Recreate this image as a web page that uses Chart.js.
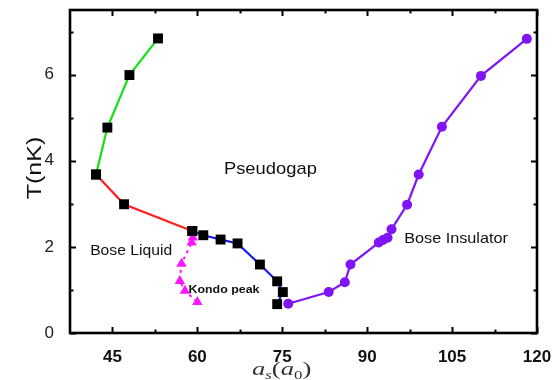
<!DOCTYPE html>
<html>
<head>
<meta charset="utf-8">
<script src="https://cdn.jsdelivr.net/npm/chart.js@4.4.1/dist/chart.umd.min.js"></script>
<style>
  body { margin: 0; background: #fff; }
</style>
</head>
<body>
<canvas id="phaseChart" width="556" height="380"></canvas>
<script>
// phase boundaries, x = a_s (a0), y = T (nK)
const greenX = [42.1, 44.1, 48.0, 53.05];
const greenY = [3.68, 4.77, 5.99, 6.84];
const redX = [42.1, 47.05, 59.1];
const redY = [3.68, 2.99, 2.37];
const blueX = [59.1, 61.05, 64.1, 67.1, 71.05, 74.1, 75.1, 74.1];
const blueY = [2.37, 2.27, 2.17, 2.08, 1.59, 1.2, 0.95, 0.67];
const insulatorX = [76.05, 83.2, 86.05, 87.05, 92.05, 92.8, 93.6, 94.3, 97.05, 99.1, 103.2, 110.1, 118.2];
const insulatorY = [0.68, 0.95, 1.18, 1.59, 2.1, 2.16, 2.21, 2.41, 2.98, 3.68, 4.79, 5.97, 6.83];
const kondoX = [59.2, 59.0, 57.2, 56.9, 57.8, 60.0];
const kondoY = [2.22, 2.1, 1.61, 1.21, 0.98, 0.72];

const xTicks = [45, 60, 75, 90, 105, 120];
const xMinor = [52.5, 67.5, 82.5, 97.5, 112.5];
const yTicks = [0, 2, 4, 6];
const yMinor = [1, 3, 5, 7];

const FONT = "'Liberation Sans', Arial, sans-serif";

function pts(xs, ys) {
    return xs.map((x, i) => ({ x: x, y: ys[i] }));
}

// text drawn with a little horizontal stretch, like the original figure
function stretchText(ctx, txt, x, y, font, sx, align) {
    ctx.save();
    ctx.font = font;
    ctx.translate(x, y);
    ctx.scale(sx, 1);
    ctx.textAlign = align || 'center';
    ctx.textBaseline = 'alphabetic';
    ctx.fillText(txt, 0, 0);
    ctx.restore();
}

const framePlugin = {
    id: 'frame',
    afterDraw(chart) {
        const ctx = chart.ctx;
        const a = chart.chartArea;
        const xs = chart.scales.x, ys = chart.scales.y;
        ctx.save();
        ctx.strokeStyle = '#000';
        ctx.lineWidth = 2;
        ctx.beginPath();
        // inward ticks on all four sides
        xTicks.concat(xMinor).forEach(v => {
            const p = Math.round(xs.getPixelForValue(v)) + 0.5;
            const len = xTicks.includes(v) ? 6 : 3.5;
            ctx.moveTo(p, a.bottom); ctx.lineTo(p, a.bottom - len);
            ctx.moveTo(p, a.top); ctx.lineTo(p, a.top + len);
        });
        yTicks.concat(yMinor).forEach(v => {
            const p = Math.round(ys.getPixelForValue(v)) + 0.5;
            const len = yTicks.includes(v) ? 6 : 3.5;
            ctx.moveTo(a.left, p); ctx.lineTo(a.left + len, p);
            ctx.moveTo(a.right, p); ctx.lineTo(a.right - len, p);
        });
        ctx.stroke();
        ctx.lineWidth = 2.6;
        ctx.strokeRect(a.left, a.top, a.right - a.left, a.bottom - a.top);

        ctx.fillStyle = '#111';
        // region labels
        stretchText(ctx, 'Pseudogap', xs.getPixelForValue(72.9), ys.getPixelForValue(3.69), '17px ' + FONT, 1.08);
        stretchText(ctx, 'Bose Liquid', xs.getPixelForValue(48.3), ys.getPixelForValue(1.82), '14px ' + FONT, 1.12);
        stretchText(ctx, 'Bose Insulator', xs.getPixelForValue(105.7), ys.getPixelForValue(2.1), '14.5px ' + FONT, 1.12);
        stretchText(ctx, 'Kondo peak', xs.getPixelForValue(64.7), ys.getPixelForValue(0.93), 'bold 11.5px ' + FONT, 1.08);

        // y title, rotated
        ctx.save();
        ctx.translate(41, 168);
        ctx.rotate(-Math.PI / 2);
        stretchText(ctx, 'T(nK)', 0, 0, '20px ' + FONT, 1.25);
        ctx.restore();

        // x title a_s(a_0) in italic serif with subscripts
        ctx.save();
        ctx.fillStyle = '#333';
        ctx.translate(252, 375);
        ctx.scale(1.4, 1);
        ctx.textBaseline = 'alphabetic';
        ctx.textAlign = 'left';
        let cx = 0;
        const big = 'italic 19px "Liberation Serif", "DejaVu Serif", serif';
        const small = 'italic 12px "Liberation Serif", "DejaVu Serif", serif';
        const up = '19px "Liberation Serif", "DejaVu Serif", serif';
        const parts = [['a', big, 0], ['s', small, 4], ['(', up, 0], ['a', big, 0], ['0', '12px "Liberation Serif", serif', 4], [')', up, 0]];
        parts.forEach(p => {
            ctx.font = p[1];
            ctx.fillText(p[0], cx, p[2]);
            cx += ctx.measureText(p[0]).width;
        });
        ctx.restore();
        ctx.restore();
    }
};

const ctx = document.getElementById('phaseChart').getContext('2d');

const squares = pts(greenX, greenY).concat(pts(redX, redY), pts(blueX, blueY));

new Chart(ctx, {
    type: 'scatter',
    data: {
        datasets: [
            {
                data: pts(greenX, greenY), showLine: true, borderColor: '#14e014',
                borderWidth: 2.2, pointRadius: 0, order: 5
            },
            {
                data: pts(redX, redY), showLine: true, borderColor: '#ff1e1e',
                borderWidth: 2.2, pointRadius: 0, order: 5
            },
            {
                data: pts(blueX, blueY), showLine: true, borderColor: '#1414ff',
                borderWidth: 2.2, pointRadius: 0, order: 5
            },
            {
                data: squares, showLine: false, pointStyle: 'rect', pointRadius: 7,
                backgroundColor: '#000', borderColor: '#000', borderWidth: 0, order: 1
            },
            {
                data: pts(insulatorX, insulatorY), showLine: true, borderColor: '#8014f5',
                borderWidth: 2.2, pointStyle: 'circle', pointRadius: 5,
                backgroundColor: '#8014f5', pointBorderColor: '#8014f5', pointBorderWidth: 0, order: 2
            },
            {
                data: pts(kondoX, kondoY), showLine: true, borderColor: '#ff14ff',
                borderWidth: 2, borderDash: [3, 4], pointStyle: 'triangle', pointRadius: 6,
                backgroundColor: '#ff14ff', pointBorderColor: '#ff14ff', pointBorderWidth: 0, order: 3
            }
        ]
    },
    options: {
        responsive: false,
        animation: false,
        layout: { padding: { top: 10, right: 19, left: 0, bottom: 0 } },
        plugins: { legend: { display: false }, tooltip: { enabled: false } },
        scales: {
            x: {
                type: 'linear', min: 37.5, max: 120,
                grid: { display: false }, border: { display: false },
                afterBuildTicks: s => { s.ticks = xTicks.map(v => ({ value: v })); },
                afterFit: s => { s.height = 47; s.paddingLeft = 0; s.paddingRight = 0; },
                ticks: {
                    autoSkip: false, maxRotation: 0, padding: 6, color: '#111',
                    font: { family: FONT, size: 17, weight: 'bold' }
                }
            },
            y: {
                type: 'linear', min: 0, max: 7.5,
                grid: { display: false }, border: { display: false },
                afterBuildTicks: s => { s.ticks = yTicks.map(v => ({ value: v })); },
                afterFit: s => { s.width = 70; s.paddingTop = 0; s.paddingBottom = 0; },
                ticks: {
                    autoSkip: false, padding: 8, color: '#222',
                    font: { family: FONT, size: 17 }
                }
            }
        }
    },
    plugins: [framePlugin]
});
</script>
</body>
</html>
